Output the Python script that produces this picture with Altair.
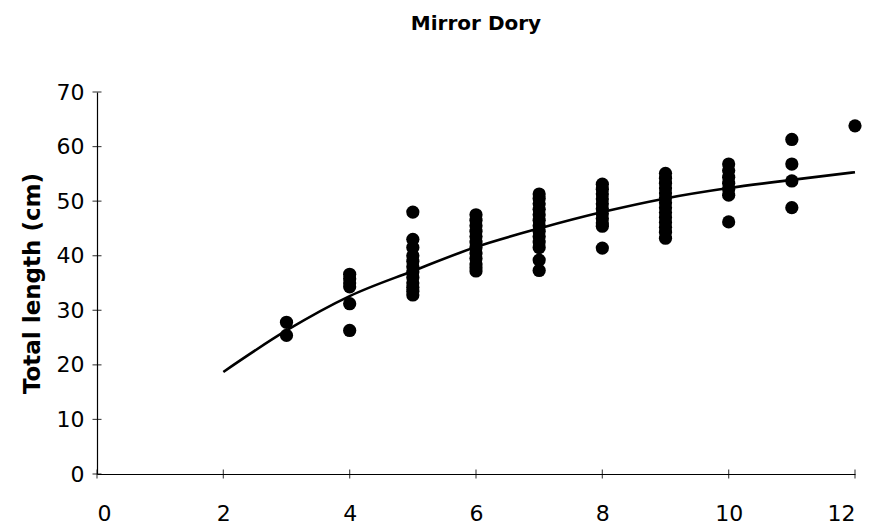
import altair as alt
import pandas as pd

# Observed total length (cm) by age (years)
age_3 = [27.8, 25.4]
age_4 = [36.6, 35.8, 35.0, 34.3, 31.2, 26.3]
age_5 = [48.0, 43.0, 41.5, 40.0, 39.0, 38.0, 37.0, 36.0, 35.0, 34.2, 33.5, 32.8]
age_6 = [47.5, 46.5, 45.5, 44.5, 43.5, 42.5, 41.5, 40.5, 39.5, 38.5, 37.8, 37.2]
age_7 = [51.3, 50.5, 49.5, 48.5, 47.5, 46.5, 45.5, 44.5, 43.5, 42.5, 41.5, 39.2, 37.3]
age_8 = [53.1, 52.2, 51.3, 50.4, 49.5, 48.6, 47.7, 46.8, 46.0, 45.4, 41.4]
age_9 = [55.1, 54.2, 53.3, 52.4, 51.5, 50.6, 49.7, 48.8, 47.9, 47.0, 46.1, 45.2, 44.3, 43.2]
age_10 = [56.8, 55.6, 54.4, 53.3, 52.2, 51.1, 46.2]
age_11 = [61.3, 56.8, 53.7, 48.8]
age_12 = [63.8]

# Fitted growth curve
curve_age = [2, 3, 4, 5, 6, 7, 8, 9, 10, 11, 12]
curve_length = [18.7, 26.3, 32.6, 37.2, 41.6, 45.0, 48.0, 50.5, 52.4, 53.9, 55.3]

x_ticks = [0, 2, 4, 6, 8, 10, 12]
y_ticks = [0, 10, 20, 30, 40, 50, 60, 70]

groups = {3: age_3, 4: age_4, 5: age_5, 6: age_6, 7: age_7, 8: age_8,
          9: age_9, 10: age_10, 11: age_11, 12: age_12}
obs = pd.DataFrame(
    [(a, v) for a, vals in groups.items() for v in vals],
    columns=["age", "length"],
)
fit = pd.DataFrame({"age": curve_age, "length": curve_length})
xt = pd.DataFrame({"age": x_ticks})
yt = pd.DataFrame({"length": y_ticks})

FONT = "DejaVu Sans"

x_scale = alt.Scale(domain=[0, 12], nice=False, zero=False)
y_scale = alt.Scale(domain=[0, 70], nice=False)

x_enc = alt.X(
    "age:Q", scale=x_scale,
    axis=alt.Axis(values=x_ticks, format="d", title=None, grid=False,
                  ticks=False, labelFontSize=22, labelPadding=29,
                  labelFont=FONT),
)
y_enc = alt.Y(
    "length:Q", scale=y_scale,
    axis=alt.Axis(values=y_ticks, format="d", title="Total length (cm)",
                  grid=False, ticks=False, labelFontSize=22, labelPadding=13,
                  titleFontSize=23, titleFontWeight="bold", titlePadding=12,
                  labelFont=FONT, titleFont=FONT),
)

points = alt.Chart(obs).mark_circle(size=175, color="black", opacity=1).encode(
    x=x_enc, y=y_enc
)
line = alt.Chart(fit).mark_line(color="black", strokeWidth=2.6,
                                interpolate="monotone").encode(x=x_enc, y=y_enc)

# Tick marks that straddle each axis line
x_tick_marks = alt.Chart(xt).mark_tick(
    orient="vertical", size=9, thickness=1.2, color="black"
).encode(x=alt.X("age:Q", scale=x_scale), y=alt.Y(datum=0, scale=y_scale))
y_tick_marks = alt.Chart(yt).mark_tick(
    orient="horizontal", size=9, thickness=1.2, color="black"
).encode(y=alt.Y("length:Q", scale=y_scale), x=alt.X(datum=0, scale=x_scale))

chart = (
    alt.layer(points, line, x_tick_marks, y_tick_marks)
    .properties(
        width=758,
        height=382,
        autosize=alt.AutoSizeParams(type="none"),
        padding={"left": 97, "top": 92, "right": 17, "bottom": 57},
        title=alt.Title("Mirror Dory", fontSize=20, fontWeight="bold",
                        font=FONT, offset=47, anchor="middle", color="black"),
    )
    .configure_view(stroke=None)
    .configure_axis(domainColor="black", labelColor="black",
                    titleColor="black", domainWidth=1.2)
)

chart.save("out.html", embed_options={"renderer": "svg", "actions": False})
